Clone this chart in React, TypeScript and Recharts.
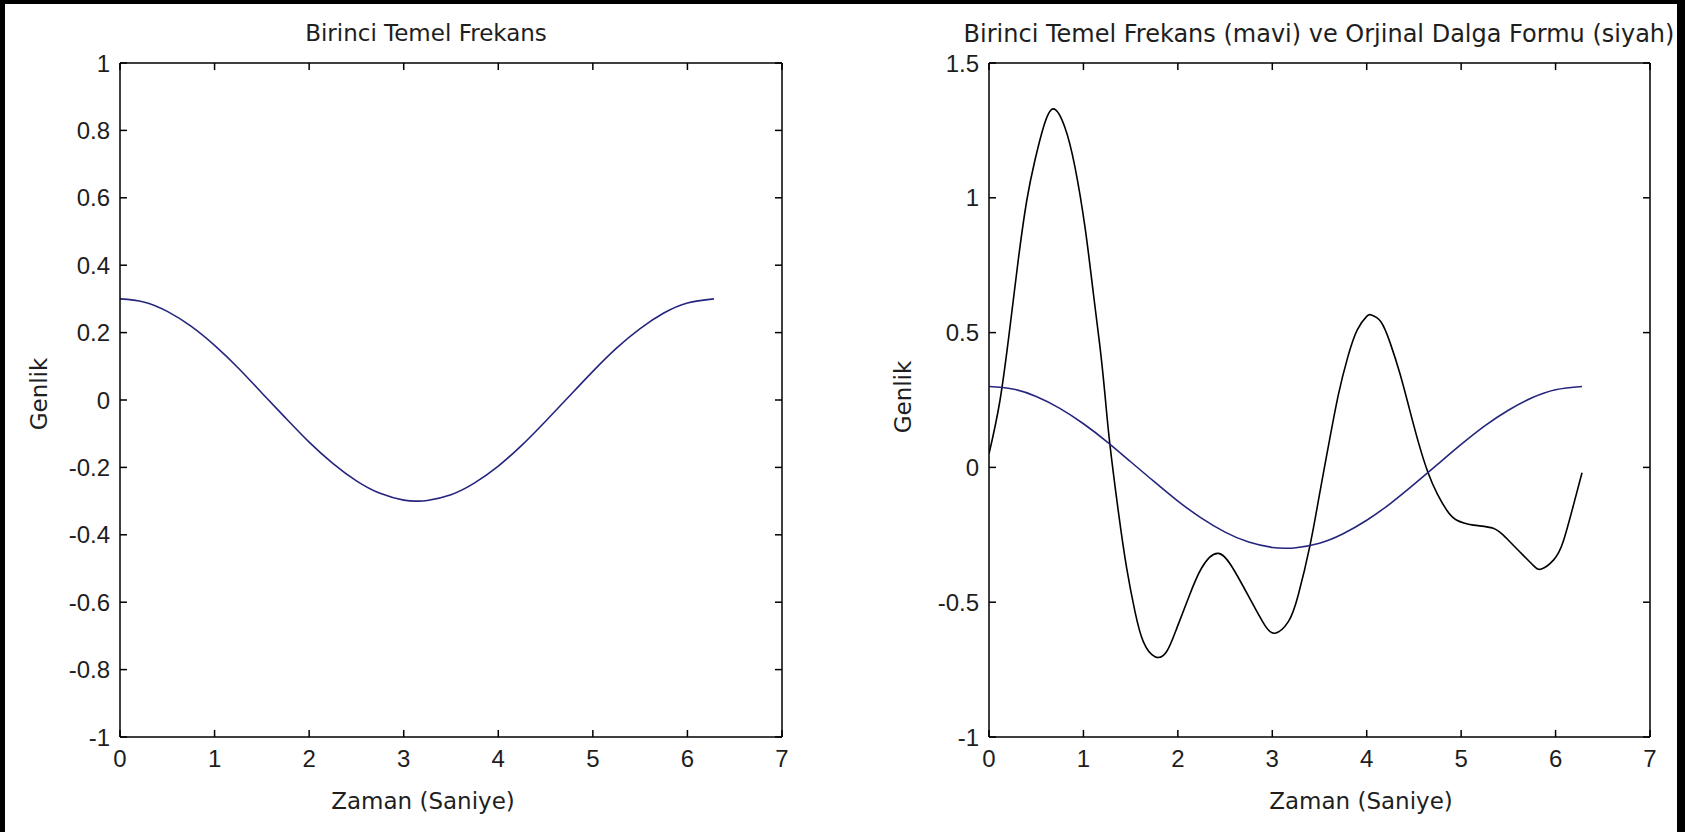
import { LineChart, Line, XAxis, YAxis, ReferenceLine } from 'recharts';

const timeTicks = [0, 1, 2, 3, 4, 5, 6, 7];
const leftAmpTicks = [-1, -0.8, -0.6, -0.4, -0.2, 0, 0.2, 0.4, 0.6, 0.8, 1];
const rightAmpTicks = [-1, -0.5, 0, 0.5, 1, 1.5];

// birinci temel frekans (mavi)
const fundTime = [
  0, 0.25, 0.5, 0.75, 1, 1.25, 1.5, 1.75, 2, 2.25, 2.5, 2.75, 3, 3.14,
  3.25, 3.5, 3.75, 4, 4.25, 4.5, 4.75, 5, 5.25, 5.5, 5.75, 6, 6.28,
];
const fundAmp = [
  0.3, 0.291, 0.263, 0.219, 0.162, 0.095, 0.021, -0.053, -0.125, -0.188,
  -0.24, -0.277, -0.297, -0.3, -0.298, -0.281, -0.246, -0.196, -0.134,
  -0.063, 0.011, 0.085, 0.154, 0.212, 0.258, 0.288, 0.3,
];

// orjinal dalga formu (siyah)
const origTime = [
  0, 0.117, 0.222, 0.31, 0.4, 0.487, 0.575, 0.68, 0.805, 0.91, 1.017, 1.105,
  1.175, 1.228, 1.28, 1.37, 1.458, 1.546, 1.634, 1.758, 1.88, 1.988, 2.11,
  2.25, 2.43, 2.605, 2.78, 2.92, 3.03, 3.17, 3.275, 3.4, 3.5, 3.6, 3.7, 3.8,
  3.9, 4.0, 4.05, 4.15, 4.25, 4.35, 4.45, 4.55, 4.65, 4.75, 4.85, 4.95, 5.13,
  5.34, 5.48, 5.62, 5.76, 5.85, 5.98, 6.08, 6.19, 6.28,
];
const origAmp = [
  0.05, 0.25, 0.52, 0.77, 0.99, 1.14, 1.26, 1.33, 1.26, 1.115, 0.89, 0.646,
  0.448, 0.27, 0.086, -0.164, -0.374, -0.535, -0.646, -0.702, -0.684, -0.597,
  -0.486, -0.374, -0.319, -0.387, -0.498, -0.585, -0.615, -0.572, -0.473,
  -0.288, -0.1, 0.09, 0.27, 0.41, 0.51, 0.56, 0.565, 0.54, 0.46, 0.35, 0.22,
  0.09, -0.02, -0.1, -0.16, -0.195, -0.214, -0.226, -0.263, -0.313, -0.362,
  -0.377, -0.343, -0.276, -0.139, -0.02,
];

const BLUE = '#25257f';
const INK = '#1e1e1e';
const TITLE_FONT = '"DejaVu Sans", Verdana, sans-serif';
const tickStyle = {
  fontFamily: '"Liberation Sans", Arial, sans-serif',
  fontSize: 24,
  fill: INK,
};
const axisStroke = { stroke: '#000', strokeWidth: 1.5 };

const PLOT_TOP = 63;
const PLOT_BOTTOM = 737;
const TICK = 7;

const rows = (ts: number[], vs: number[]) => ts.map((t, i) => ({ t, v: vs[i] }));
const fundRows = rows(fundTime, fundAmp);
const origRows = rows(origTime, origAmp);

type Series = { key: string; data: { t: number; v: number }[]; color: string };

// matlab style: tick marks point inward, on both opposite sides
const timeTick = (props: any) => {
  const { x, payload } = props;
  return (
    <g>
      <line x1={x} x2={x} y1={PLOT_BOTTOM} y2={PLOT_BOTTOM - TICK} stroke="#000" strokeWidth={1.5} />
      <line x1={x} x2={x} y1={PLOT_TOP} y2={PLOT_TOP + TICK} stroke="#000" strokeWidth={1.5} />
      <text x={x} y={PLOT_BOTTOM + 30} textAnchor="middle" {...tickStyle}>
        {payload.value}
      </text>
    </g>
  );
};

const ampTick = (plotLeft: number, plotRight: number) => (props: any) => {
  const { y, payload } = props;
  return (
    <g>
      <line x1={plotLeft} x2={plotLeft + TICK} y1={y} y2={y} stroke="#000" strokeWidth={1.5} />
      <line x1={plotRight - TICK} x2={plotRight} y1={y} y2={y} stroke="#000" strokeWidth={1.5} />
      <text x={plotLeft - 10} y={y} dy={8.5} textAnchor="end" {...tickStyle}>
        {payload.value}
      </text>
    </g>
  );
};

function Panel({
  left,
  width,
  marginLeft,
  marginRight,
  yDomain,
  yTicks,
  series,
}: {
  left: number;
  width: number;
  marginLeft: number;
  marginRight: number;
  yDomain: [number, number];
  yTicks: number[];
  series: Series[];
}) {
  const plotLeft = marginLeft + 60;
  const plotRight = width - marginRight;
  return (
    <div style={{ position: 'absolute', left, top: 0 }}>
      <LineChart
        width={width}
        height={832}
        margin={{ top: PLOT_TOP, right: marginRight, bottom: 55, left: marginLeft }}
      >
        <XAxis
          dataKey="t"
          type="number"
          domain={[0, 7]}
          ticks={timeTicks}
          height={40}
          tick={timeTick}
          tickLine={false}
          axisLine={axisStroke}
          allowDataOverflow
        />
        <YAxis
          type="number"
          domain={yDomain}
          ticks={yTicks}
          width={60}
          tick={ampTick(plotLeft, plotRight)}
          tickLine={false}
          axisLine={axisStroke}
          allowDataOverflow
        />
        {/* box: top and right edges */}
        <ReferenceLine y={yDomain[1]} stroke="#000" strokeWidth={1.5} />
        <ReferenceLine x={7} stroke="#000" strokeWidth={1.5} />
        {series.map((s) => (
          <Line
            key={s.key}
            data={s.data}
            dataKey="v"
            type="natural"
            stroke={s.color}
            strokeWidth={1.6}
            dot={false}
            activeDot={false}
            isAnimationActive={false}
          />
        ))}
      </LineChart>
    </div>
  );
}

function Text({
  x,
  y,
  size = 23,
  rotate,
  children,
}: {
  x: number;
  y: number;
  size?: number;
  rotate?: boolean;
  children: string;
}) {
  return (
    <div
      style={{
        position: 'absolute',
        left: x,
        top: y,
        transform: rotate ? 'translate(-50%, -50%) rotate(-90deg)' : 'translateX(-50%)',
        fontFamily: TITLE_FONT,
        fontSize: size,
        lineHeight: 1,
        color: INK,
        whiteSpace: 'nowrap',
      }}
    >
      {children}
    </div>
  );
}

export default function App() {
  return (
    <div
      style={{
        position: 'fixed',
        left: 0,
        top: 0,
        width: 1685,
        height: 832,
        background: '#000',
        overflow: 'hidden',
      }}
    >
      <div
        style={{ position: 'absolute', left: 5, top: 4, width: 1672, height: 828, background: '#fff' }}
      />
      <Panel
        left={0}
        width={840}
        marginLeft={60}
        marginRight={58}
        yDomain={[-1, 1]}
        yTicks={leftAmpTicks}
        series={[{ key: 'temel', data: fundRows, color: BLUE }]}
      />
      <Panel
        left={840}
        width={845}
        marginLeft={89}
        marginRight={35}
        yDomain={[-1, 1.5]}
        yTicks={rightAmpTicks}
        series={[
          { key: 'orjinal', data: origRows, color: '#000' },
          { key: 'temel', data: fundRows, color: BLUE },
        ]}
      />
      <Text x={426} y={22}>Birinci Temel Frekans</Text>
      <Text x={1319} y={22} size={24}>
        Birinci Temel Frekans (mavi) ve Orjinal Dalga Formu (siyah)
      </Text>
      <Text x={423} y={790}>Zaman (Saniye)</Text>
      <Text x={1361} y={790}>Zaman (Saniye)</Text>
      <Text x={39} y={394} rotate>Genlik</Text>
      <Text x={903} y={397} rotate>Genlik</Text>
    </div>
  );
}
